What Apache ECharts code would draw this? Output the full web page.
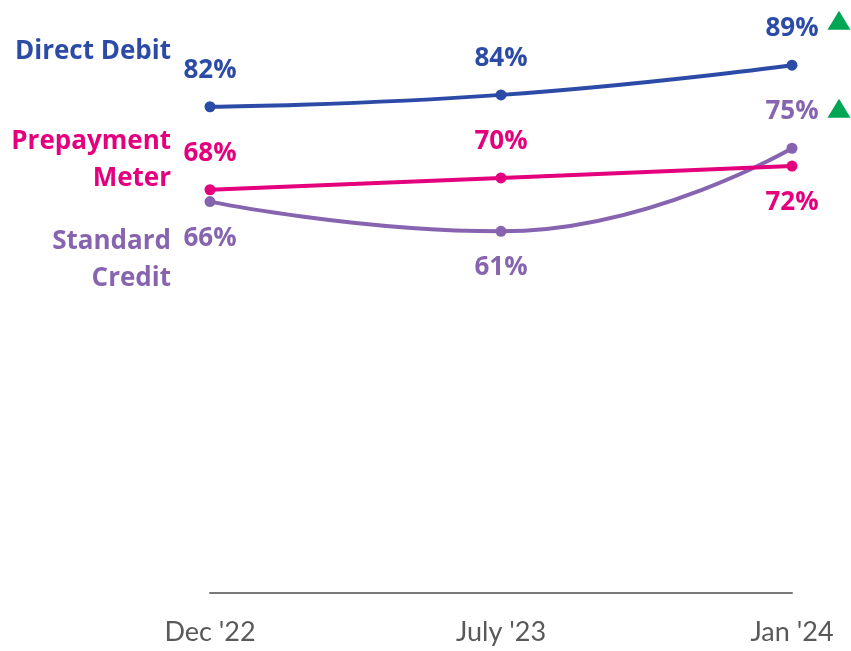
<!DOCTYPE html>
<html>
<head>
<meta charset="utf-8">
<script src="https://cdn.jsdelivr.net/npm/echarts@6/dist/echarts.min.js"></script>
<style>
  html, body { margin: 0; padding: 0; background: #ffffff; }
  #chart { width: 851px; height: 651px; }
</style>
</head>
<body>
<div id="chart"></div>
<script>
// Survey waves along the x axis
var periods = ["Dec '22", "July '23", "Jan '24"];

// Share of customers by payment method (%)
var directDebit = [82, 84, 89];
var prepaymentMeter = [68, 70, 72];
var standardCredit = [66, 61, 75];

// Where each value label sits relative to its point
var directDebitLabelPos = ['top', 'top', 'top'];
var prepaymentLabelPos = ['top', 'top', 'bottom'];
var standardCreditLabelPos = ['bottom', 'bottom', 'top'];

var BLUE = '#2B4BA7';
var PINK = '#E4007C';
var PURPLE = '#8764B0';
var GREEN = '#00A651';
var BOLD_FONT = '"Open Sans"';
var AXIS_FONT = 'Lato';

function withLabels(values, positions) {
  return values.map(function (v, i) {
    return { value: v, label: { position: positions[i] } };
  });
}

function lineSeries(name, values, positions, color, extra) {
  var s = {
    name: name,
    type: 'line',
    smooth: true,
    symbol: 'circle',
    symbolSize: 11,
    lineStyle: { width: 4, color: color },
    itemStyle: { color: color },
    data: withLabels(values, positions),
    label: {
      show: true,
      distance: 18,
      color: color,
      fontFamily: BOLD_FONT,
      fontWeight: 'bold',
      fontSize: 26,
      formatter: '{c}%'
    },
    emphasis: { disabled: true },
    z: 3
  };
  if (extra) { for (var k in extra) s[k] = extra[k]; }
  return s;
}

function upMarker(value, offset) {
  return {
    symbol: 'triangle',
    symbolSize: [23, 19],
    itemStyle: { color: GREEN },
    label: { show: false },
    data: [{ coord: [periods[periods.length - 1], value], symbolOffset: offset }]
  };
}

var chart = echarts.init(document.getElementById('chart'), null, { renderer: 'canvas' });

chart.setOption({
  animation: false,
  backgroundColor: '#ffffff',
  grid: { left: 210, right: 59, top: 0, bottom: 58 },
  xAxis: {
    type: 'category',
    data: periods,
    boundaryGap: false,
    axisLine: { show: true, lineStyle: { color: '#7a7a7a', width: 2 } },
    axisTick: { show: false },
    axisLabel: {
      color: '#595959',
      fontFamily: AXIS_FONT,
      fontSize: 27,
      margin: 26
    },
    splitLine: { show: false }
  },
  yAxis: {
    type: 'value',
    min: 0,
    max: 100,
    show: false,
    splitLine: { show: false }
  },
  series: [
    lineSeries('Standard Credit', standardCredit, standardCreditLabelPos, PURPLE, {
      markPoint: upMarker(standardCredit[2], [47, -40])
    }),
    lineSeries('Prepayment Meter', prepaymentMeter, prepaymentLabelPos, PINK),
    lineSeries('Direct Debit', directDebit, directDebitLabelPos, BLUE, {
      markPoint: upMarker(directDebit[2], [47, -45])
    })
  ],
  graphic: [
    {
      type: 'text', right: 680, top: 39,
      style: { text: 'Direct Debit', fill: BLUE, font: 'bold 26px ' + BOLD_FONT, textAlign: 'right' }
    },
    {
      type: 'text', right: 680, top: 123,
      style: { text: 'Prepayment\nMeter', fill: PINK, font: 'bold 26px ' + BOLD_FONT, textAlign: 'right', lineHeight: 37 }
    },
    {
      type: 'text', right: 680, top: 223,
      style: { text: 'Standard\nCredit', fill: PURPLE, font: 'bold 26px ' + BOLD_FONT, textAlign: 'right', lineHeight: 37 }
    }
  ]
});
</script>
</body>
</html>
